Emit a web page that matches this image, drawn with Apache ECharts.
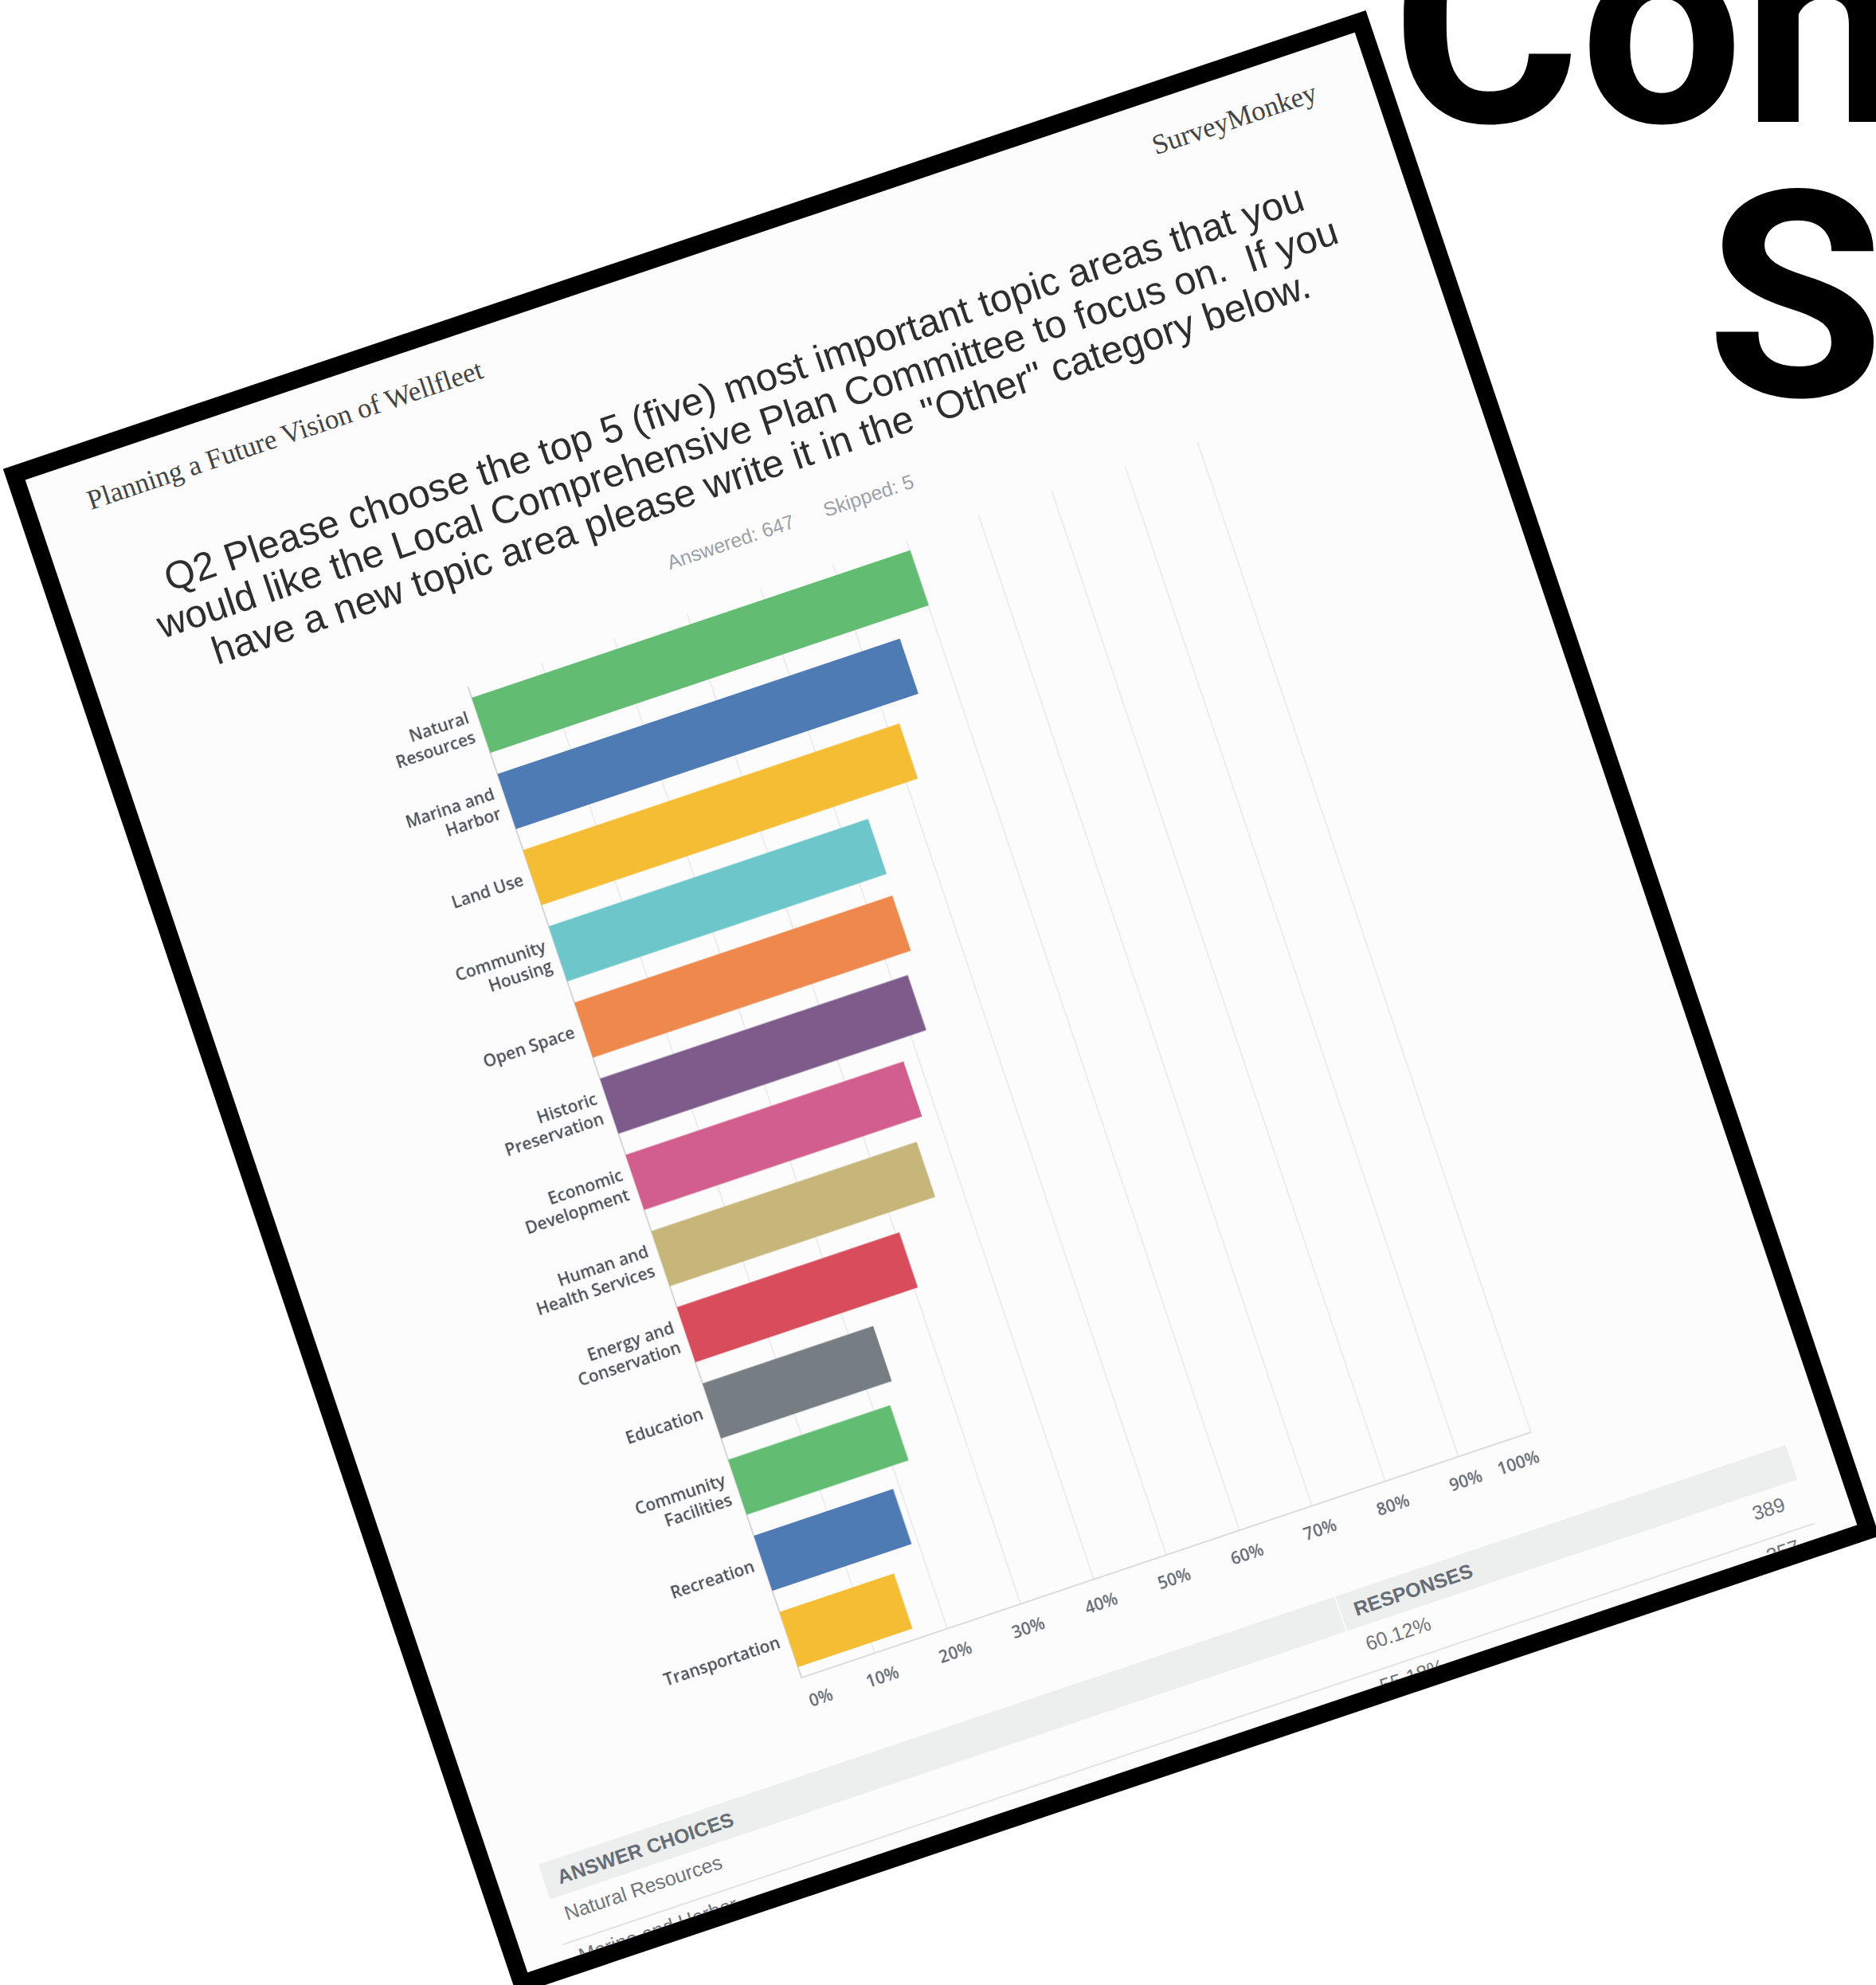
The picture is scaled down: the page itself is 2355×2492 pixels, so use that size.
<!DOCTYPE html>
<html>
<head>
<meta charset="utf-8">
<script src="https://cdn.jsdelivr.net/npm/echarts@6/dist/echarts.min.js"></script>
<style>
  html, body { margin:0; padding:0; }
  body { width:2355px; height:2492px; background:#ffffff; position:relative; overflow:hidden; }
  .big { position:absolute; font-family:Roboto, 'Liberation Sans', sans-serif; font-weight:700; font-size:362px; line-height:362px; color:#000; white-space:nowrap; }
  #paper { position:absolute; left:279.3px; top:247.5px; width:1805px; height:2021px; box-sizing:border-box;
           border:22px solid #000; background:#fcfcfc; transform:rotate(-18.6deg); transform-origin:50% 50%; overflow:hidden; }
  .abs { position:absolute; white-space:nowrap; }
  #hdrL { left:66px; top:33px; font-family:'Liberation Serif', serif; font-size:35px; line-height:35px; color:#444; }
  #hdrR { right:70px; top:37px; font-family:'Liberation Serif', serif; font-size:35px; line-height:35px; color:#444; }
  #title { left:0; width:1760px; top:147.5px; text-align:center; font-family:'Liberation Sans', Arial, sans-serif; font-size:49px; line-height:53px; color:#2e2e2e; }
  #stats { left:731px; top:344px; font-family:'Liberation Sans', Arial, sans-serif; font-size:25px; line-height:25px; color:#9aa0a7; }
  #chart { position:absolute; left:128px; top:381px; width:1410px; height:1450px; }
  .band { position:absolute; left:56px; top:1853px; width:1652px; height:46px; background:#edeeee; }
  .th { position:absolute; font-family:'Liberation Sans', Arial, sans-serif; font-weight:700; font-size:25px; line-height:46px; color:#676d74; white-space:nowrap; }
  .td { position:absolute; font-family:'Liberation Sans', Arial, sans-serif; font-size:25px; line-height:25px; color:#6f747a; white-space:nowrap; }
  .sep { position:absolute; left:53px; width:1658px; height:2px; background:#e2e3e3; }
</style>
</head>
<body>
<div class="big" style="left:1747px; top:-152px;">Con</div>
<div class="big" style="left:2142px; top:192px;">S</div>

<div id="paper">
  <div id="hdrL" class="abs"></div>
  <div id="hdrR" class="abs"></div>
  <div id="title" class="abs"></div>
  <div id="stats" class="abs"></div>
  <div id="chart"></div>
  <div id="table"></div>
</div>

<script>
// ---- data ----
const surveyTitle = 'Planning a Future Vision of Wellfleet';
const providerName = 'SurveyMonkey';
const questionLines = [
  'Q2 Please choose the top 5 (five) most important topic areas that you',
  'would like the Local Comprehensive Plan Committee to focus on.\u00a0 If you',
  'have a new topic area please write it in the "Other" category below.'
];
const answeredCount = 647;
const skippedCount = 5;

const categories = ['Natural Resources','Marina and Harbor','Land Use','Community Housing','Open Space',
  'Historic Preservation','Economic Development','Human and Health Services','Energy and Conservation',
  'Education','Community Facilities','Recreation','Transportation'];
const categoryLabels = ['Natural\nResources','Marina and\nHarbor','Land Use','Community\nHousing','Open Space',
  'Historic\nPreservation','Economic\nDevelopment','Human and\nHealth Services','Energy and\nConservation',
  'Education','Community\nFacilities','Recreation','Transportation'];
const percentValues = [60.12, 55.18, 51.6, 43.8, 43.6, 42.2, 38.1, 36.4, 30.5, 23.4, 22.2, 19.1, 15.7];
const barColors = ['#62bd72','#4f7bb5','#f4bd34','#6cc6ca','#ee884d','#7d5c8c','#d15e8d','#c6b679',
  '#d84c5b','#767d83','#62bd72','#4f7bb5','#f4bd34'];
const axisMin = 0, axisMax = 100, axisStep = 10;

const tableHeaders = ['ANSWER CHOICES', 'RESPONSES'];
const tableRows = [
  ['Natural Resources', '60.12%', '389'],
  ['Marina and Harbor', '55.18%', '357']
];

// ---- texts ----
document.getElementById('hdrL').textContent = surveyTitle;
document.getElementById('hdrR').textContent = providerName;
document.getElementById('title').innerHTML = questionLines.map(s => s.replace(/&/g,'&amp;').replace(/</g,'&lt;')).join('<br>');
document.getElementById('stats').innerHTML = 'Answered: ' + answeredCount + '<span style="margin-left:40px">Skipped: ' + skippedCount + '</span>';

// ---- table ----
(function(){
  const t = document.getElementById('table');
  let h = '<div class="band"></div>';
  h += '<div style="position:absolute;left:1110px;top:1853px;width:2px;height:46px;background:#fafafa"></div>';
  h += '<div class="th" style="left:74px;top:1853px">' + tableHeaders[0] + '</div>';
  h += '<div class="th" style="left:1129px;top:1853px">' + tableHeaders[1] + '</div>';
  tableRows.forEach((r, i) => {
    const top = 1910 + i * 56;
    h += '<div class="td" style="left:68px;top:' + top + 'px">' + r[0] + '</div>';
    h += '<div class="td" style="left:1129px;top:' + top + 'px">' + r[1] + '</div>';
    h += '<div class="td" style="left:1483px;width:200px;text-align:right;top:' + top + 'px">' + r[2] + '</div>';
    h += '<div class="sep" style="top:' + (1957 + i * 56) + 'px"></div>';
  });
  t.innerHTML = h;
})();

// ---- chart ----
const chart = echarts.init(document.getElementById('chart'), null, { renderer: 'canvas' });
chart.setOption({
  animation: false,
  backgroundColor: 'transparent',
  grid: { left: 316, top: 43, width: 966, height: 1312, containLabel: false },
  xAxis: {
    type: 'value', min: axisMin, max: axisMax, interval: axisStep,
    axisLine: { show: true, lineStyle: { color: '#dcdcdc', width: 2 } },
    axisTick: { show: false },
    splitLine: { show: true, lineStyle: { color: '#ededed', width: 2 } },
    axisLabel: {
      formatter: '{value}%', color: '#5f666d', fontSize: 21, fontWeight: 600,
      fontFamily: 'Open Sans', margin: 23, alignMinLabel: 'left', alignMaxLabel: 'right'
    }
  },
  yAxis: {
    type: 'category', inverse: true, data: categories,
    axisLine: { show: true, lineStyle: { color: '#d6d6d6', width: 2 } },
    axisTick: { show: false },
    axisLabel: {
      formatter: (v, i) => categoryLabels[i], color: '#4a4f55', fontSize: 21, fontWeight: 600,
      fontFamily: 'Open Sans', lineHeight: 26, margin: 12, align: 'right'
    }
  },
  series: [{
    type: 'bar', barWidth: 73,
    data: percentValues.map((v, i) => ({ value: v, itemStyle: { color: barColors[i] } }))
  }]
});
</script>
</body>
</html>
